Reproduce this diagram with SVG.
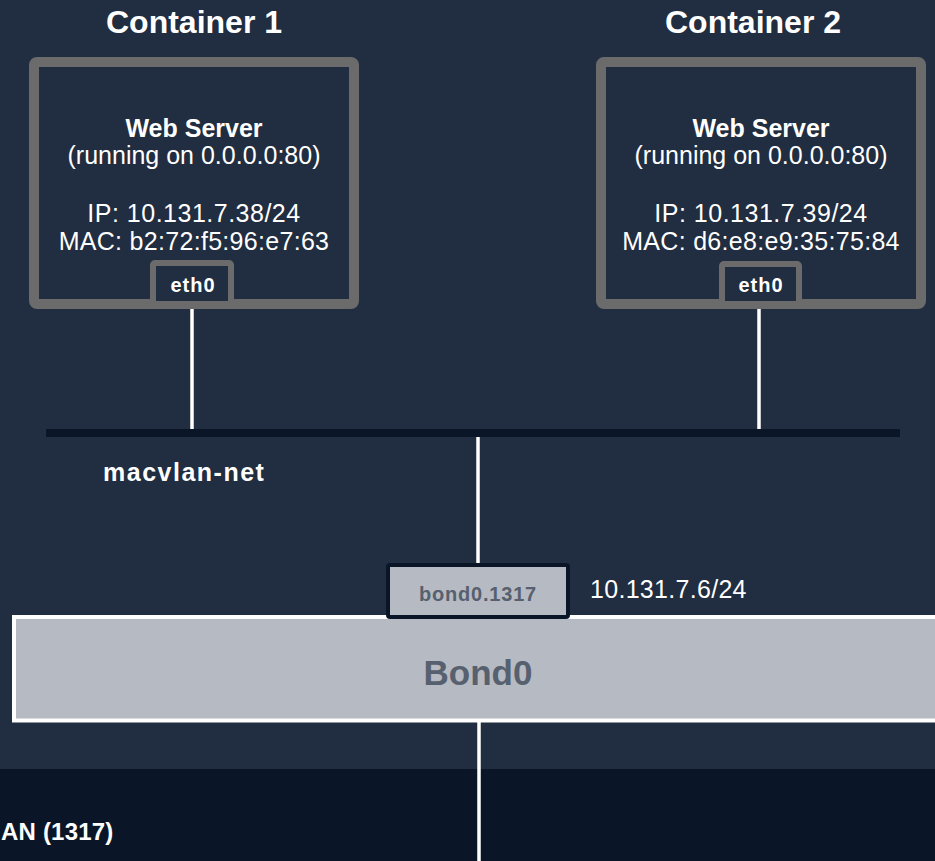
<svg xmlns="http://www.w3.org/2000/svg" width="935" height="861" viewBox="0 0 935 861">
  <style>
    .title { font-family: "Liberation Sans", Arial, sans-serif; font-weight: bold; font-size: 32px; fill: #ffffff; text-anchor: middle; }
    .body { font-family: "Liberation Sans", Arial, sans-serif; font-size: 25px; fill: #ffffff; text-anchor: middle; }
    .bodyb { font-family: "Liberation Sans", Arial, sans-serif; font-weight: bold; font-size: 25px; fill: #ffffff; text-anchor: middle; }
    .eth { font-family: "Liberation Sans", Arial, sans-serif; font-weight: bold; font-size: 20px; letter-spacing: 1px; fill: #ffffff; text-anchor: middle; }
    .box { fill: #212d40; stroke: #6b6b6b; stroke-width: 10; }
    .ethbox { fill: #212d40; stroke: #6b6b6b; stroke-width: 6; }
    .wire { stroke: #ffffff; stroke-width: 3.5; fill: none; }
    .lbl { font-family: "Liberation Sans", Arial, sans-serif; font-weight: bold; fill: #ffffff; }
  </style>
  <rect x="0" y="0" width="935" height="861" fill="#212d40"/>
  <rect x="0" y="769" width="935" height="92" fill="#0a1628"/>

  <g id="connectors">
    <line class="wire" x1="192" y1="309" x2="192" y2="430"/>
    <line class="wire" x1="759" y1="309" x2="759" y2="430"/>
    <line class="wire" x1="478" y1="436" x2="478" y2="565"/>
    <line class="wire" x1="479" y1="720" x2="479" y2="861"/>
  </g>

  <g id="macvlan-net">
    <rect x="46" y="429" width="854" height="8" fill="#0a1628"/>
    <text class="lbl" x="103" y="481" font-size="25" letter-spacing="1.5">macvlan-net</text>
  </g>

  <g id="container1">
    <text class="title" x="194" y="33">Container 1</text>
    <rect class="box" x="34" y="62" width="320" height="242" rx="3"/>
    <text class="bodyb" x="194" y="137">Web Server</text>
    <text class="body" x="194" y="164">(running on 0.0.0.0:80)</text>
    <text class="body" x="194" y="222" letter-spacing="0.5">IP: 10.131.7.38/24</text>
    <text class="body" x="194" y="250" letter-spacing="0.3">MAC: b2:72:f5:96:e7:63</text>
    <g id="c1-eth0">
      <rect class="ethbox" x="153" y="263" width="78" height="41" rx="2"/>
      <text class="eth" x="193" y="292">eth0</text>
    </g>
  </g>

  <g id="container2">
    <text class="title" x="753" y="33">Container 2</text>
    <rect class="box" x="601" y="62" width="320" height="242" rx="3"/>
    <text class="bodyb" x="761" y="137">Web Server</text>
    <text class="body" x="761" y="164">(running on 0.0.0.0:80)</text>
    <text class="body" x="761" y="222" letter-spacing="0.5">IP: 10.131.7.39/24</text>
    <text class="body" x="761" y="250" letter-spacing="0.3">MAC: d6:e8:e9:35:75:84</text>
    <g id="c2-eth0">
      <rect class="ethbox" x="722" y="264" width="77" height="40" rx="2"/>
      <text class="eth" x="761" y="292">eth0</text>
    </g>
  </g>

  <g id="bond0">
    <rect x="14" y="617" width="940" height="103.5" fill="#b6bac2" stroke="#ffffff" stroke-width="4"/>
    <text x="478" y="685" font-family="Liberation Sans, Arial, sans-serif" font-weight="bold" font-size="35" fill="#56606e" text-anchor="middle">Bond0</text>
  </g>

  <g id="bond0-1317">
    <rect x="388" y="565" width="180" height="52" rx="2" fill="#b6bac2" stroke="#0a1628" stroke-width="4"/>
    <text x="478" y="601" font-family="Liberation Sans, Arial, sans-serif" font-weight="bold" font-size="20" letter-spacing="0.8" fill="#56606e" text-anchor="middle">bond0.1317</text>
    <text x="590" y="598" font-family="Liberation Sans, Arial, sans-serif" font-size="25" fill="#ffffff" letter-spacing="0.3">10.131.7.6/24</text>
  </g>

  <g id="vlan">
    <text class="lbl" x="1" y="840" font-size="24" letter-spacing="0.2">AN (1317)</text>
  </g>
</svg>
